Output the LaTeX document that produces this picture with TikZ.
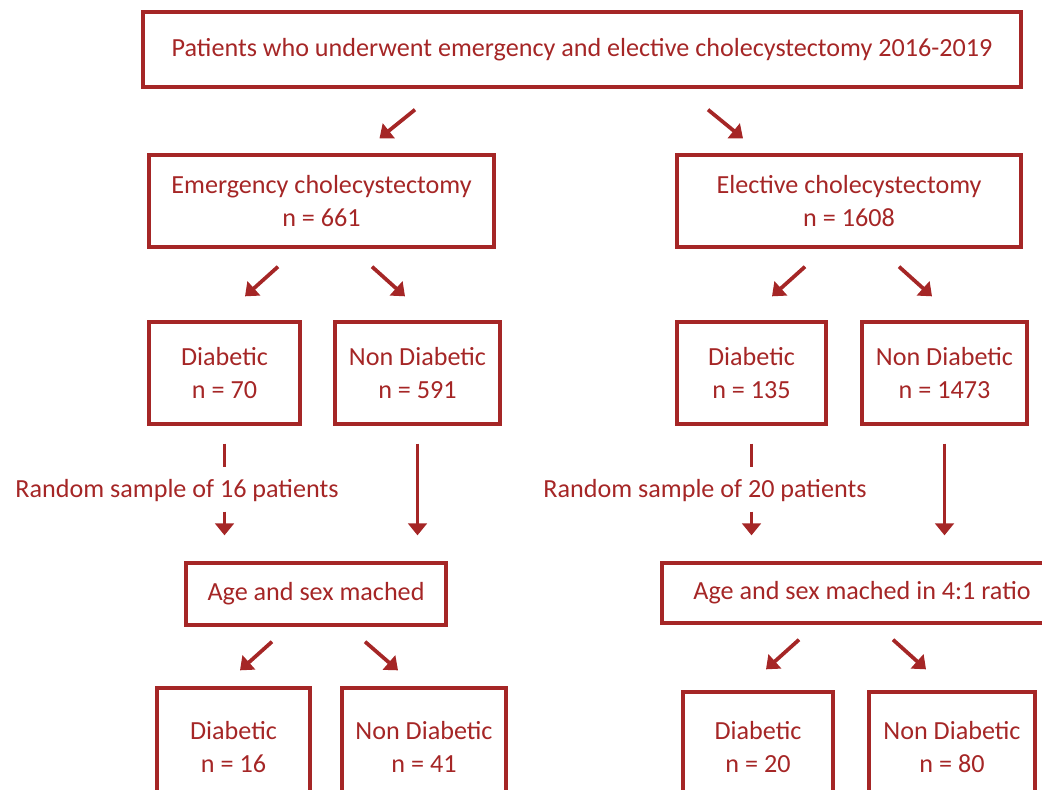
\documentclass[tikz,border=0pt]{standalone}
\usepackage{fontspec}
\setmainfont{Carlito}
\usetikzlibrary{arrows.meta,calc}
\definecolor{flowred}{RGB}{165,38,38}
\tikzset{
  box/.style={draw=flowred, line width=2.5pt, text=flowred, align=center, inner sep=0pt,
    font=\fontsize{19.6}{25}\selectfont},
  lbl/.style={text=flowred, inner sep=0pt, font=\fontsize{19.6}{25}\selectfont},
  arr/.style={draw=flowred, line width=2.8pt, -{Triangle[width=14pt,length=9pt]}},
  seg/.style={draw=flowred, line width=2.8pt}
}
\begin{document}
\begin{tikzpicture}[x=0.75pt, y=-0.75pt]
  \useasboundingbox (0,0) rectangle (1042,789);
  \clip (0,0) rectangle (1042,789);

  % Boxes
  \node[box, minimum width=658.5pt, minimum height=56.25pt] (top) at (582,49.5)
    {Patients who underwent emergency and elective cholecystectomy 2016-2019};
  \node[box, minimum width=258.75pt, minimum height=69pt] (emer) at (321.5,201)
    {Emergency cholecystectomy\\n = 661};
  \node[box, minimum width=258pt, minimum height=69pt] (elec) at (849,201)
    {Elective cholecystectomy\\n = 1608};

  \node[box, minimum width=113.25pt, minimum height=76.5pt] (dl1) at (224.5,373) {Diabetic\\n = 70};
  \node[box, minimum width=123.75pt, minimum height=76.5pt] (nl1) at (417.5,373) {Non Diabetic\\n = 591};
  \node[box, minimum width=111.75pt, minimum height=76.5pt] (dr1) at (751.5,373) {Diabetic\\n = 135};
  \node[box, minimum width=123.75pt, minimum height=76.5pt] (nr1) at (944.5,373) {Non Diabetic\\n = 1473};

  \node[lbl] (rsl) at (177,491) {Random sample of 16 patients};
  \node[lbl] (rsr) at (705,491) {Random sample of 20 patients};

  \node[box, minimum width=195pt, minimum height=46.5pt] (agel) at (316,594) {Age and sex mached};
  \node[box, minimum width=300pt, minimum height=45pt] (ager) at (862,593) {Age and sex mached in 4:1 ratio};

  \node[box, minimum width=114.75pt, minimum height=88.5pt] (dl2) at (233.5,747) {Diabetic\\n = 16};
  \node[box, minimum width=123pt, minimum height=88.5pt] (nl2) at (424,747) {Non Diabetic\\n = 41};
  \node[box, minimum width=112.5pt, minimum height=82.5pt] (dr2) at (758,747) {Diabetic\\n = 20};
  \node[box, minimum width=124.5pt, minimum height=82.5pt] (nr2) at (952,747) {Non Diabetic\\n = 80};

  % Flechas
  \draw[arr] ($(top.south)+(-167,21)$) -- ($(emer.north)+(58,-15)$);
  \draw[arr] ($(top.south)+(126,21)$) -- ($(elec.north)+(-106,-15)$);

  \draw[arr] ($(emer.south)+(-43.5,18)$) -- ($(dl1.north)+(20.5,-24)$);
  \draw[arr] ($(emer.south)+(50.5,18)$) -- ($(nl1.north)+(-12.5,-24)$);
  \draw[arr] ($(elec.south)+(-44,18)$) -- ($(dr1.north)+(20.5,-24)$);
  \draw[arr] ($(elec.south)+(50,18)$) -- ($(nr1.north)+(-12.5,-24)$);

  % Muestreo
  \draw[seg] ($(dl1.south)+(0,18)$) -- ($(dl1.south)+(0,41)$);
  \draw[arr] ($(dl1.south)+(0,86)$) -- ($(dl1.south |- agel.north)+(0,-26)$);
  \draw[arr] ($(nl1.south)+(0,18)$) -- ($(nl1.south |- agel.north)+(0,-26)$);
  \draw[seg] ($(dr1.south)+(0,18)$) -- ($(dr1.south)+(0,41)$);
  \draw[arr] ($(dr1.south)+(0,86)$) -- ($(dr1.south |- ager.north)+(0,-26)$);
  \draw[arr] ($(nr1.south)+(0,18)$) -- ($(nr1.south |- ager.north)+(0,-26)$);

  \draw[arr] ($(agel.south)+(-44,15)$) -- ($(dl2.north)+(6.5,-16)$);
  \draw[arr] ($(agel.south)+(49,15)$) -- ($(nl2.north)+(-26,-16)$);
  \draw[arr] ($(ager.south)+(-63,15)$) -- ($(dr2.north)+(8,-21)$);
  \draw[arr] ($(ager.south)+(31,15)$) -- ($(nr2.north)+(-26,-21)$);
\end{tikzpicture}
\end{document}
